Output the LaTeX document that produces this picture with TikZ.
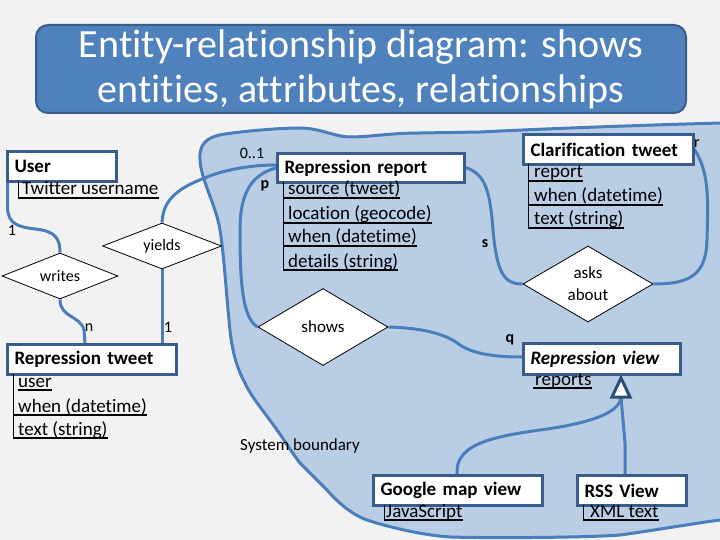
\documentclass[tikz,border=0pt]{standalone}
\usepackage{fontspec}
\setmainfont{Carlito}[RawFeature={-liga;-clig;-calt;-dlig}]
\usetikzlibrary{shapes.geometric,calc}
\definecolor{bg}{HTML}{F2F2F2}
\definecolor{bfill}{HTML}{B9CDE5}
\definecolor{bline}{HTML}{4A7EBB}
\definecolor{ebord}{HTML}{385D8A}
\definecolor{tfill}{HTML}{4F81BD}
\definecolor{tribord}{HTML}{2C4D75}
\begin{document}
\begin{tikzpicture}[x=1pt,y=-1pt,
  bound/.style={draw=bline,line width=3pt,fill=bfill},
  titlebox/.style={draw=ebord,line width=2pt,fill=tfill,rounded corners=12pt,text=white,align=center,font=\fontsize{40}{45}\selectfont},
  entity/.style={draw=ebord,line width=3pt,fill=white,anchor=north west,inner xsep=7pt,inner ysep=0pt,minimum height=30pt,align=left,font=\bfseries\fontsize{19}{22}\selectfont},
  attr/.style={anchor=base west,inner sep=0pt,font=\fontsize{19}{22}\selectfont},
  ul/.style={draw=black,line width=1.8pt},
  vl/.style={draw=black,line width=1pt},
  rel/.style={shape=diamond,draw=black,line width=0.8pt,fill=white,inner sep=0pt,align=center,font=\fontsize{16}{22}\selectfont},
  conn/.style={draw=bline,line width=3pt},
  card/.style={inner sep=0pt,font=\fontsize{16}{18}\selectfont},
  tri/.style={draw=tribord,line width=3pt,fill=white,line join=miter}]
\fill[bg] (0,0) rectangle (720,540);
\useasboundingbox (0,0) rectangle (720,540);
\begin{scope}
\clip (0,0) rectangle (720,540);
\draw[bound] (200,160) .. controls (199,145) and (205,137) .. (225,134)
  .. controls (245,131) and (280,128) .. (300,128)
  .. controls (320,128) and (335,137) .. (350,137)
  .. controls (370,137) and (390,133) .. (420,133) -- (480,132)
  .. controls (560,128) and (650,125) .. (720,123) -- (760,122) -- (760,520) -- (720,520)
  .. controls (690,524) and (650,531) .. (620,535)
  .. controls (580,538) and (480,538) .. (450,537)
  .. controls (420,535) and (385,526) .. (367,520)
  .. controls (355,516) and (340,505) .. (327,490)
  .. controls (315,478) and (305,468) .. (300,463)
  .. controls (290,450) and (283,438) .. (277,430)
  .. controls (265,413) and (250,395) .. (245,383)
  .. controls (235,365) and (231,345) .. (229,320)
  .. controls (226,290) and (224,255) .. (220,230)
  .. controls (216,205) and (201,180) .. (200,160) -- cycle;
\end{scope}

% title
\node[titlebox,minimum width=650pt,minimum height=88pt] (title) at (361,69) {Entity-relationship diagram: shows\\entities, attributes, relationships};

% diamonds
\node[rel,aspect=2.5,minimum width=116pt,minimum height=46pt] (writes) at (60,276) {writes};
\node[rel,aspect=2.5,minimum width=119pt,minimum height=46pt] (yields) at (162,246) {yields};
\node[rel,aspect=1.7,minimum width=130pt,minimum height=77pt,font=\fontsize{17}{22}\selectfont] (shows) at (323,327) {shows};
\node[rel,aspect=1.7,minimum width=130pt,minimum height=76pt,font=\fontsize{17}{22}\selectfont] (asks) at (588,284) {asks\\about};

% connectors
\coordinate (tritop) at (621,378);
\coordinate (tribase) at (621,397);
\draw[conn] ($(6,180)+(1.5,0)$) -- (7.5,207) .. controls (7.5,225) and (20,227) .. (35,229) .. controls (55,231) and (60,238) .. (writes.north);
\draw[conn] (writes.south) .. controls (60,318) and (80,315) .. (84,330) -- (85,343);
\draw[conn] (yields.south) -- (162,343);
\draw[conn] (yields.north) .. controls (163,195) and (185,185) .. (215,174) .. controls (235,168) and (255,165) .. (276,165);
\draw[conn] (276,168) .. controls (250,175) and (240,195) .. (240,230) .. controls (240,280) and (242,318) .. (shows.west);
\draw[conn] (shows.east) .. controls (420,328) and (445,333) .. (460,345) .. controls (475,355) and (500,357) .. (522,357);
\draw[conn] (463,167) .. controls (485,172) and (490,190) .. (493,230) .. controls (497,275) and (505,284) .. (asks.west);
\draw[conn] (692,146) .. controls (710,170) and (708,200) .. (707,240) .. controls (706,275) and (690,284) .. (asks.east);
\draw[conn] (457,474) .. controls (455,445) and (490,437) .. (540,430) .. controls (600,422) and (620,410) .. (tribase);
\draw[conn] (625,474) -- (625,443) -- (tribase);
\draw[tri] (tritop) -- (630,397) -- (612,397) -- cycle;

% entities
\node[entity,text width=95pt] (user) at (6,150) {User};
\node[entity,text width=155pt] (rtweet) at (6,343) {Repression tweet};
\node[entity,text width=173pt,minimum height=29pt] (rreport) at (276,152) {Repression report};
\node[entity,text width=156pt] (clar) at (522,133) {Clarification tweet};
\node[entity,text width=143pt,minimum height=31pt,font=\bfseries\itshape\fontsize{19}{22}\selectfont] (rview) at (522,342) {Repression view};
\node[entity,text width=155pt] (gmap) at (372,474) {Google map view};
\node[entity,text width=95pt] (rss) at (576,474) {RSS View};

% attributes
\node[attr] (ua1) at (22,195) {Twitter username};
\draw[vl] (18,181) -- (18,198);
\draw[ul] (18,198) -- ($(ua1.base east)+(0,3)$);

\node[attr] (ta1) at (18,387) {user};
\node[attr] (ta2) at (18,412) {when (datetime)};
\node[attr] (ta3) at (18,435) {text (string)};
\draw[vl] (13,374) -- (13,438);
\draw[ul] (18,390) -- ($(ta1.base east)+(0,3)$);
\draw[ul] (13,415) -- ($(ta2.base east)+(0,3)$);
\draw[ul] (13,438) -- ($(ta3.base east)+(0,3)$);

\node[attr] (ra1) at (288,195) {source (tweet)};
\node[attr] (ra2) at (288,220) {location (geocode)};
\node[attr] (ra3) at (288,243) {when (datetime)};
\node[attr] (ra4) at (288,267) {details (string)};
\draw[vl] (283,182) -- (283,270);
\draw[ul] (283,198) -- ($(ra1.base east)+(0,3)$);
\draw[ul] (283,223) -- ($(ra2.base east)+(0,3)$);
\draw[ul] (283,246) -- ($(ra3.base east)+(0,3)$);
\draw[ul] (283,270) -- ($(ra4.base east)+(0,3)$);

\node[attr] (ca1) at (534,178) {report};
\node[attr] (ca2) at (534,202) {when (datetime)};
\node[attr] (ca3) at (534,225) {text (string)};
\draw[vl] (528,164) -- (528,228);
\draw[ul] (528,181) -- ($(ca1.base east)+(0,3)$);
\draw[ul] (528,205) -- ($(ca2.base east)+(0,3)$);
\draw[ul] (528,228) -- ($(ca3.base east)+(0,3)$);

\node[attr] (va1) at (535,385) {reports};
\draw[ul] (533,388) -- ($(va1.base east)+(0,3)$);

\node[attr] (ga1) at (386,517) {JavaScript};
\draw[vl] (384,505) -- (384,520);
\draw[ul] (384,520) -- ($(ga1.base east)+(0,3)$);

\node[attr] (sa1) at (590,517) {XML text};
\draw[vl] (583,505) -- (583,520);
\draw[ul] (583,520) -- ($(sa1.base east)+(0,3)$);

% cardinalities and labels
\node[card] (c1) at (12,230) {1};
\node[card] (cn) at (89,328) {n};
\node[card] (c2) at (168,327) {1};
\node[card] (c01) at (252,153) {0..1};
\node[card,font=\bfseries\fontsize{16}{18}\selectfont] (cp) at (265,186) {p};
\node[card,font=\bfseries\fontsize{16}{18}\selectfont] (cq) at (510,340) {q};
\node[card,font=\bfseries\fontsize{16}{18}\selectfont] (cs) at (485,244) {s};
\node[card] (cr) at (697,144) {r};
\node[anchor=west,inner sep=0pt,font=\fontsize{17}{20}\selectfont] (sysb) at (240,446) {System boundary};
\end{tikzpicture}
\end{document}
